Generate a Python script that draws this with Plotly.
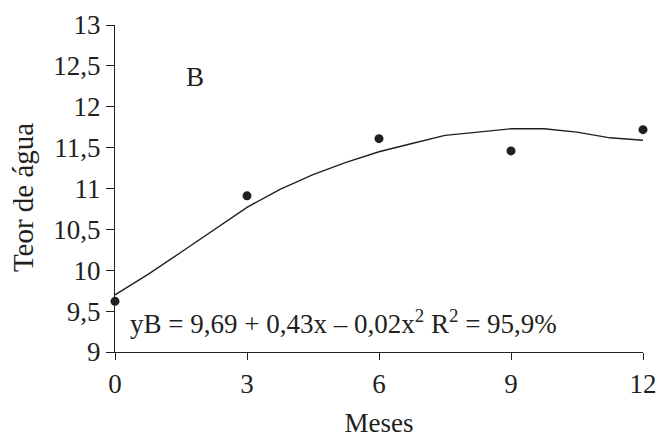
import plotly.graph_objects as go

# observed data
months = [0, 3, 6, 9, 12]
water = [9.62, 10.91, 11.61, 11.46, 11.72]

# fitted curve as drawn
curve_x = [0, 0.75, 1.5, 2.25, 3, 3.75, 4.5, 5.25, 6, 6.75, 7.5, 8.25, 9, 9.75, 10.5, 11.25, 12]
curve_y = [9.70, 9.95, 10.22, 10.50, 10.77, 10.99, 11.17, 11.32, 11.45, 11.55, 11.65, 11.69,
           11.73, 11.73, 11.69, 11.62, 11.59]

x_ticks = [0, 3, 6, 9, 12]
y_ticks = [9, 9.5, 10, 10.5, 11, 11.5, 12, 12.5, 13]
y_tick_labels = ["9", "9,5", "10", "10,5", "11", "11,5", "12", "12,5", "13"]

x_title = "Meses"
y_title = "Teor de água"
panel_label = "B"
equation = "yB = 9,69 + 0,43x – 0,02x<sup>2</sup> R<sup>2</sup> = 95,9%"

FONT = "Liberation Serif"
FS = 27
INK = "#231f20"

fig = go.Figure()
fig.add_trace(go.Scatter(x=curve_x, y=curve_y, mode="lines",
                         line=dict(color=INK, width=1.4), showlegend=False))
fig.add_trace(go.Scatter(x=months, y=water, mode="markers", cliponaxis=False,
                         marker=dict(color=INK, size=9), showlegend=False))

fig.update_layout(
    width=658, height=438,
    margin=dict(l=115, r=15, t=25, b=86),
    paper_bgcolor="white", plot_bgcolor="white",
    font=dict(family=FONT, size=FS, color=INK),
    xaxis=dict(range=[0, 12], tickvals=x_ticks, ticktext=[str(v) for v in x_ticks],
               showgrid=False, zeroline=False, showline=True, linecolor=INK, linewidth=1.3,
               ticks="outside", ticklen=7, tickcolor=INK, tickwidth=1.3,
               title=dict(text=x_title, standoff=17, font=dict(size=FS)), automargin=False,
               tickfont=dict(size=FS)),
    yaxis=dict(range=[9, 13], tickvals=y_ticks, ticktext=y_tick_labels,
               showgrid=False, zeroline=False, showline=True, linecolor=INK, linewidth=1.3,
               ticks="outside", ticklen=8, tickcolor=INK, tickwidth=1.3,
               automargin=False, tickfont=dict(size=FS)),
    annotations=[
        dict(text=y_title, xref="paper", yref="paper", x=-0.174, y=0.471, textangle=-90,
             xanchor="center", yanchor="middle", showarrow=False, font=dict(size=29)),
        dict(text=panel_label, xref="paper", yref="paper", x=0.152, y=0.841,
             xanchor="center", yanchor="middle", showarrow=False, font=dict(size=FS)),
        dict(text=equation, xref="paper", yref="paper", x=0.025, y=0.092,
             xanchor="left", yanchor="middle", showarrow=False, font=dict(size=FS)),
    ],
)

# remove the page's default 8px body margin so the figure sits at the window's corner
fig.write_html("out.html",
               config={"displayModeBar": False},
               post_script="document.body.style.margin='0';document.body.style.overflow='hidden';")
